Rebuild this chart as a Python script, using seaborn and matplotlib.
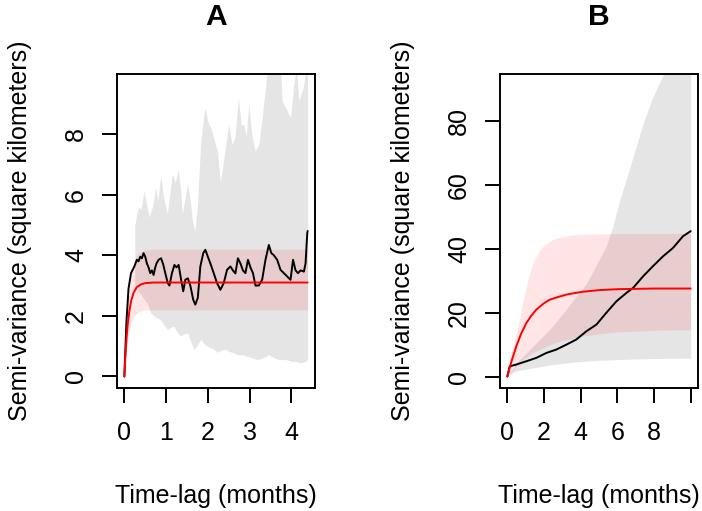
import numpy as np
import matplotlib
matplotlib.use("Agg")
import matplotlib.pyplot as plt
import seaborn as sns

# ---- panel A values ----
a_black_x = [0, 0.05, 0.10, 0.16, 0.24, 0.30, 0.34, 0.38, 0.42, 0.46, 0.50, 0.54, 0.58, 0.62, 0.66,
             0.70, 0.74, 0.77, 0.82, 0.88, 0.93, 0.98, 1.04, 1.08, 1.14, 1.20, 1.25, 1.30, 1.36, 1.41,
             1.46, 1.52, 1.58, 1.65, 1.70, 1.76, 1.82, 1.89, 1.94, 2.00, 2.06, 2.14, 2.22, 2.30, 2.38,
             2.46, 2.54, 2.60, 2.66, 2.72, 2.78, 2.84, 2.90, 2.96, 3.02, 3.08, 3.14, 3.22, 3.30, 3.38,
             3.46, 3.52, 3.58, 3.66, 3.74, 3.82, 3.90, 3.98, 4.04, 4.10, 4.16, 4.22, 4.30, 4.34, 4.38, 4.39]
a_black_y = [0, 1.8, 2.9, 3.41, 3.63, 3.85, 3.8, 3.95, 3.9, 4.07, 3.95, 3.73, 3.6, 3.41, 3.5,
             3.35, 3.6, 3.73, 3.85, 3.9, 3.7, 3.41, 3.08, 3.0, 3.41, 3.68, 3.6, 3.68, 3.19, 2.81,
             3.19, 3.24, 3.0, 2.53, 2.37, 2.6, 3.63, 4.07, 4.18, 3.95, 3.73, 3.41, 3.08, 2.86, 3.08,
             3.52, 3.63, 3.5, 3.4, 3.9, 3.73, 3.5, 3.41, 3.85, 3.6, 3.41, 3.0, 3.0, 3.19, 3.85,
             4.34, 4.07, 4.0, 3.85, 3.52, 3.41, 3.3, 3.19, 3.85, 3.5, 3.41, 3.5, 3.46, 3.73, 4.72, 4.8]

a_gup_x = [0.25, 0.30, 0.34, 0.40, 0.47, 0.53, 0.59, 0.67, 0.75, 0.80, 0.87, 0.94, 1.03,
           1.15, 1.22, 1.29, 1.35, 1.39, 1.51, 1.57, 1.63, 1.69, 1.75, 1.83, 1.93, 2.00, 2.07, 2.15,
           2.23, 2.30, 2.42, 2.50, 2.58, 2.65, 2.73, 2.80, 2.86, 2.92, 2.98, 3.05, 3.13, 3.22, 3.30,
           3.38, 3.45, 3.66, 3.74, 3.78, 3.90, 3.98, 4.06, 4.12, 4.18, 4.28, 4.36, 4.39]
a_gup_y = [5.0, 5.36, 5.6, 5.5, 6.13, 5.7, 5.25, 5.58, 6.24, 5.8, 6.62, 5.9, 5.36,
           6.68, 6.4, 6.84, 6.1, 5.36, 6.35, 5.9, 5.14, 4.81, 5.6, 7.77, 8.87, 8.4, 8.21, 7.8,
           7.44, 6.4, 7.55, 8.32, 7.66, 7.9, 9.2, 8.3, 8.32, 7.9, 8.98, 8.0, 7.44, 7.66, 8.54,
           9.53, 10.5, 10.5, 10.2, 9.09, 8.76, 8.54, 9.64, 10.2, 9.09, 9.5, 10.2, 10.2]

a_glo_x = [0.25, 0.31, 0.40, 0.50, 0.55, 0.63, 0.75, 0.87, 0.95, 1.03, 1.11, 1.19, 1.27,
           1.35, 1.43, 1.51, 1.59, 1.67, 1.75, 1.83, 1.91, 1.99, 2.07, 2.15, 2.22, 2.30, 2.40, 2.50,
           2.62, 2.70, 2.82, 2.94, 3.06, 3.18, 3.30, 3.46, 3.58, 3.70, 3.86, 4.00, 4.10, 4.22, 4.34, 4.39]
a_glo_y = [2.95, 2.86, 2.7, 2.5, 2.42, 2.1, 1.95, 1.87, 1.7, 1.55, 1.62, 1.66, 1.45,
           1.33, 1.4, 1.44, 1.15, 0.89, 1.05, 1.22, 1.08, 1.0, 0.95, 0.89, 0.8, 0.85, 0.9, 0.83,
           0.78, 0.72, 0.72, 0.67, 0.62, 0.56, 0.6, 0.72, 0.62, 0.56, 0.56, 0.5, 0.5, 0.45, 0.5, 0.56]

a_fit_x = [0, 0.02, 0.05, 0.08, 0.12, 0.16, 0.22, 0.3, 0.4, 0.5, 0.7, 4.39]
a_fit_y = [0, 0.56, 1.22, 1.7, 2.16, 2.48, 2.76, 2.95, 3.04, 3.08, 3.1, 3.1]
a_fit_hi = [0, 0.75, 1.65, 2.3, 2.9, 3.35, 3.75, 4.0, 4.12, 4.17, 4.2, 4.2]
a_fit_lo = [0, 0.4, 0.87, 1.2, 1.54, 1.75, 1.96, 2.09, 2.16, 2.19, 2.2, 2.2]

# ---- panel B values ----
b_black_x = [0, 0.13, 0.49, 1.04, 1.58, 2.13, 2.67, 3.22, 3.76, 4.31, 4.86, 5.4, 5.95, 6.49, 6.86,
             7.4, 7.94, 8.49, 9.03, 9.58, 10.0]
b_black_y = [0, 3.2, 3.76, 4.8, 5.85, 7.4, 8.46, 10.0, 11.6, 14.2, 16.3, 20.0, 23.6, 26.2, 27.8,
             31.4, 34.6, 37.7, 40.3, 44.0, 45.6]

b_gup_x = [0, 0.5, 1.4, 2.3, 3.0, 3.76, 4.3, 4.86, 5.4, 5.8, 6.13, 6.58, 6.86, 7.4, 7.94, 8.49, 9.0, 10.0]
b_gup_y = [0, 4.3, 9.5, 14.7, 19.5, 25.2, 29.0, 35.0, 41.0, 48.0, 55.3, 63.6, 68.9, 79.3, 87.7, 94.5, 103, 118]
b_glo_x = [0, 0.5, 1.4, 2.3, 3.22, 4.0, 5.04, 6.0, 6.86, 8.0, 10.0]
b_glo_y = [0, 1.8, 2.7, 3.6, 4.3, 4.7, 5.1, 5.3, 5.5, 5.65, 5.8]

b_fit_x = [0, 0.1, 0.25, 0.49, 0.75, 1.04, 1.3, 1.58, 2.0, 2.31, 2.8, 3.22, 3.7, 4.12, 5.0, 6.0, 7.0, 8.0, 10.0]
b_fit_y = [0, 2.2, 5.2, 9.5, 13.4, 16.8, 19.0, 21.0, 23.0, 24.1, 25.0, 25.7, 26.2, 26.6, 27.1, 27.4, 27.5, 27.6, 27.6]
b_hi_x = [0, 0.13, 0.4, 0.67, 0.85, 1.04, 1.2, 1.4, 1.65, 1.94, 2.3, 2.67, 3.2, 3.76, 4.5, 5.6, 7.0, 10.0]
b_hi_y = [0, 5.3, 11.6, 17.9, 23.5, 28.3, 32.0, 35.6, 38.6, 40.8, 42.4, 43.5, 44.1, 44.5, 44.7, 44.8, 44.9, 44.9]
b_lo_x = [0, 0.5, 1.0, 1.5, 2.0, 2.5, 3.0, 4.0, 5.0, 6.0, 8.0, 10.0]
b_lo_y = [0, 3.2, 6.0, 7.8, 9.2, 10.4, 11.3, 12.6, 13.4, 14.0, 14.5, 14.7]

a_xticks = [0, 1, 2, 3, 4]
a_yticks = [0, 2, 4, 6, 8]
b_xticks = [0, 2, 4, 6, 8, 10]
b_xlabels = ['0', '2', '4', '6', '8', '']
b_yticks = [0, 20, 40, 60, 80]

GREY = '#E5E5E5'
FS = 18

sns.set_style("ticks")
plt.rcParams['font.family'] = ['Liberation Sans', 'DejaVu Sans']
plt.rcParams.update({'text.color': 'black', 'axes.labelcolor': 'black',
                     'xtick.color': 'black', 'ytick.color': 'black'})


def band(ax, x, lo, hi, **kw):
    ax.fill_between(x, lo, hi, linewidth=0, **kw)


def style(ax, title, xlim, ylim):
    ax.set_xlim(*xlim)
    ax.set_ylim(*ylim)
    for s in ax.spines.values():
        s.set_visible(True)
        s.set_color('black')
        s.set_linewidth(1.4)
    ax.tick_params(direction='out', length=10.8, width=1.4, labelsize=FS, colors='black')
    ax.tick_params(axis='x', pad=13)
    ax.tick_params(axis='y', pad=10, labelrotation=90)
    for lbl in ax.get_yticklabels():
        lbl.set_va('center')
    ax.set_title(title, fontsize=21.6, fontweight='bold', pad=35, color='black')
    ax.set_xlabel('Time-lag (months)', fontsize=FS)
    ax.set_ylabel('Semi-variance (square kilometers)', fontsize=FS)
    ax.xaxis.set_label_coords(0.5, -0.305)
    ax.yaxis.set_label_coords(-0.43, 0.5)


fig = plt.figure(figsize=(7.02, 5.11), dpi=100)
axA = fig.add_axes([117 / 702, 1 - 388 / 511, 198 / 702, 314 / 511])
axB = fig.add_axes([500 / 702, 1 - 388 / 511, 198 / 702, 314 / 511])

# panel A
gx = np.union1d(a_gup_x, a_glo_x)
band(axA, gx, np.interp(gx, a_glo_x, a_glo_y), np.interp(gx, a_gup_x, a_gup_y), color=GREY)
band(axA, a_fit_x, a_fit_lo, a_fit_hi, color='red', alpha=0.1)
sns.lineplot(x=a_black_x, y=a_black_y, ax=axA, color='black', linewidth=1.4, errorbar=None)
sns.lineplot(x=a_fit_x, y=a_fit_y, ax=axA, color='red', linewidth=1.4, errorbar=None)
axA.set_xticks(a_xticks)
axA.set_yticks(a_yticks)
style(axA, 'A', (-0.176, 4.566), (-0.38, 9.98))

# panel B
gx = np.union1d(b_gup_x, b_glo_x)
band(axB, gx, np.interp(gx, b_glo_x, b_glo_y), np.interp(gx, b_gup_x, b_gup_y), color=GREY)
px = np.union1d(b_hi_x, b_lo_x)
band(axB, px, np.interp(px, b_lo_x, b_lo_y), np.interp(px, b_hi_x, b_hi_y), color='red', alpha=0.1)
sns.lineplot(x=b_black_x, y=b_black_y, ax=axB, color='black', linewidth=1.4, errorbar=None)
sns.lineplot(x=b_fit_x, y=b_fit_y, ax=axB, color='red', linewidth=1.4, errorbar=None)
axB.set_xticks(b_xticks)
axB.set_xticklabels(b_xlabels)
axB.set_yticks(b_yticks)
style(axB, 'B', (-0.4, 10.4), (-3.6, 94.9))

fig.savefig('out.png', dpi=100)
